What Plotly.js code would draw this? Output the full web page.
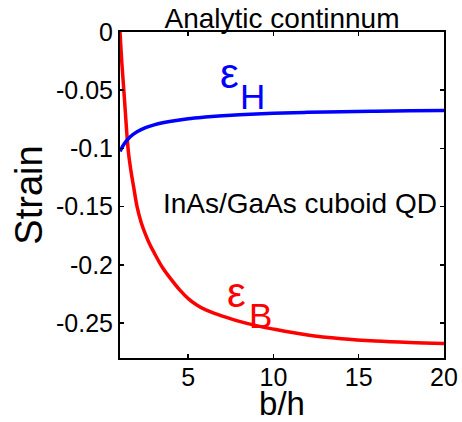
<!DOCTYPE html>
<html>
<head>
<meta charset="utf-8">
<script src="https://cdn.plot.ly/plotly-3.0.1.min.js"></script>
<style>html,body{margin:0;padding:0;background:#fff;}#chart{width:462px;height:422px;}</style>
</head>
<body>
<div id="chart"></div>
<script>
// b/h values and strains
const bhB = [1, 1.1, 1.2, 1.3, 1.4, 1.5, 1.65, 1.8, 2, 2.25, 2.5, 2.75, 3, 3.5, 4, 4.5, 5, 5.5, 6, 6.5, 7, 8, 9, 10, 12, 14, 16, 18, 20];
const epsB = [0, -0.025, -0.045, -0.066, -0.087, -0.104, -0.12, -0.133, -0.150, -0.164, -0.174, -0.1825, -0.1895, -0.2025, -0.2125, -0.2215, -0.229, -0.2345, -0.2385, -0.2415, -0.244, -0.2485, -0.2522, -0.2552, -0.2603, -0.2635, -0.2655, -0.2667, -0.2675];
const bhH = [1, 1.25, 1.5, 1.75, 2, 2.5, 3, 3.5, 4, 5, 6, 7, 8, 10, 12, 14, 16, 18, 20];
const epsH = [-0.1025, -0.096, -0.0915, -0.0882, -0.0857, -0.0822, -0.0798, -0.078, -0.0766, -0.0745, -0.0731, -0.072, -0.0711, -0.0698, -0.069, -0.0684, -0.068, -0.0677, -0.0675];
const yTickVals = [0, -0.05, -0.1, -0.15, -0.2, -0.25];
const yTickText = ["0", "-0.05", "-0.1", "-0.15", "-0.2", "-0.25"];
const xTickVals = [5, 10, 15, 20];
const xTickText = ["5", "10", "15", "20"];

const F = 'Arial, "Liberation Sans", sans-serif';
const traces = [
  {x: bhB, y: epsB, mode: 'lines', line: {color: '#ff0000', width: 3.5, shape: 'spline', smoothing: 1}, hoverinfo: 'none'},
  {x: bhH, y: epsH, mode: 'lines', line: {color: '#0000ff', width: 3.5, shape: 'spline', smoothing: 1}, hoverinfo: 'none'}
];
const axisCommon = {
  showline: true, linecolor: '#000', linewidth: 2, mirror: 'ticks',
  ticks: 'inside', ticklen: 4, tickwidth: 1.5, tickcolor: '#000',
  showgrid: false, zeroline: false, tickfont: {family: F, size: 25, color: '#000'}
};
const layout = {
  width: 462, height: 422,
  margin: {l: 120, r: 18, t: 32, b: 64},
  paper_bgcolor: '#fff', plot_bgcolor: '#fff',
  showlegend: false,
  title: {text: 'Analytic continnum', font: {family: F, size: 28, color: '#000'}, x: 0.5, xref: 'paper', y: 1, yref: 'paper', yanchor: 'bottom', pad: {b: 4}},
  xaxis: Object.assign({}, axisCommon, {range: [1, 20], tickvals: xTickVals, ticktext: xTickText, ticklabelstandoff: -4,
    title: {text: 'b/h', font: {family: F, size: 33, color: '#000'}, standoff: 6}}),
  yaxis: Object.assign({}, axisCommon, {range: [-0.28, 0], tickvals: yTickVals, ticktext: yTickText,
    title: {text: 'Strain', font: {family: F, size: 38, color: '#000'}, standoff: 2}}),
  annotations: [
    {text: 'InAs/GaAs cuboid QD', x: 20, y: -0.147, xref: 'x', yref: 'y', xanchor: 'right', xshift: -5, showarrow: false, font: {family: F, size: 28, color: '#000'}},
    {text: 'ε', x: 7.4, y: -0.0355, xref: 'x', yref: 'y', showarrow: false, font: {family: F, size: 42, color: '#0000ff'}},
    {text: 'H', x: 8.75, y: -0.0555, xref: 'x', yref: 'y', showarrow: false, font: {family: F, size: 35, color: '#0000ff'}},
    {text: 'ε', x: 7.81, y: -0.2235, xref: 'x', yref: 'y', showarrow: false, font: {family: F, size: 42, color: '#ff0000'}},
    {text: 'B', x: 9.22, y: -0.2435, xref: 'x', yref: 'y', showarrow: false, font: {family: F, size: 35, color: '#ff0000'}}
  ]
};
Plotly.newPlot('chart', traces, layout, {staticPlot: true, displayModeBar: false});
</script>
</body>
</html>
